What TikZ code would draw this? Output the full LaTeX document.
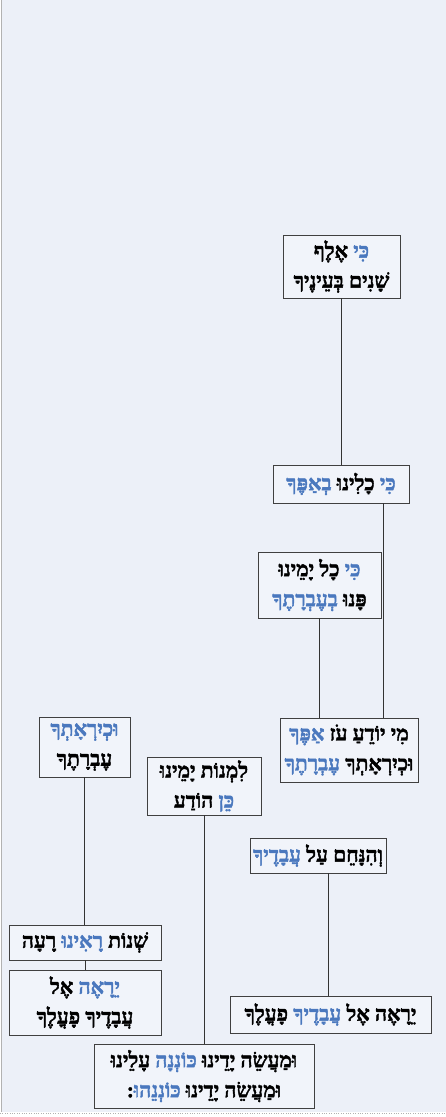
\documentclass[tikz,border=0pt]{standalone}
\usepackage{fontspec}
\TeXXeTstate=1
\newfontfamily\heb[Script=Hebrew,FakeBold=2]{Liberation Serif}
\newfontfamily\hebblue[Script=Hebrew,FakeBold=2,Color=4A78BE]{Liberation Serif}
\definecolor{bgc}{HTML}{ECF0F8}
\definecolor{boxfill}{HTML}{F1F4FA}
\newcommand{\hbl}[1]{{\hebblue\bfseries #1}}
\newcommand{\rl}[1]{\beginR #1\endR}
\begin{document}
\begin{tikzpicture}[x=1pt,y=-1pt,
  box/.style={draw=black!75, fill=boxfill, line width=0.8pt, font=\heb\bfseries\fontsize{21}{30}\selectfont, align=center, inner sep=0pt},
  conn/.style={draw=black!80, line width=0.7pt}]
\useasboundingbox (0,0) rectangle (446,1117);
\fill[bgc] (2,0) rectangle (446,1112);
\draw[gray!60] (1,0) -- (1,1112);
\draw[gray!60, dotted] (0,1113.5) -- (446,1113.5);

\node[box, minimum width=117, minimum height=63] (b1) at (341.5,266.5) {\rl{\hbl{כִּי} אֶלֶף}\\\rl{שָׁנִים בְּעֵינֶיךָ}};
\node[box, minimum width=136, minimum height=38] (b2) at (341,484) {\rl{\hbl{כִּי} כָלִינוּ \hbl{בְאַפֶּךָ}}};
\node[box, minimum width=123, minimum height=66] (b3) at (319.5,585) {\rl{\hbl{כִּי} כָל יָמֵינוּ}\\\rl{פָּנוּ \hbl{בְעֶבְרָתֶךָ}}};
\node[box, minimum width=138, minimum height=64] (b4) at (349,750) {\rl{מִי יוֹדֵעַ עֹז \hbl{אַפֶּךָ}}\\\rl{וּכְיִרְאָתְךָ \hbl{עֶבְרָתֶךָ}}};
\node[box, minimum width=91, minimum height=60] (b5) at (84.5,747) {\rl{\hbl{וּכְיִרְאָתְךָ}}\\\rl{עֶבְרָתֶךָ}};
\node[box, minimum width=114, minimum height=58] (b6) at (204,786) {\rl{לִמְנוֹת יָמֵינוּ}\\\rl{\hbl{כֵּן} הוֹדַע}};
\node[box, minimum width=136, minimum height=35] (b7) at (318,855.5) {\rl{וְהִנָּחֵם עַל \hbl{עֲבָדֶיךָ}}};
\node[box, minimum width=152, minimum height=35] (b8) at (85,942.5) {\rl{שְׁנוֹת \hbl{רָאִינוּ} רָעָה}};
\node[box, minimum width=152, minimum height=65] (b9) at (85,1002.5) {\rl{\hbl{יֵרָאֶה} אֶל}\\\rl{עֲבָדֶיךָ פָעֳלֶךָ}};
\node[box, minimum width=201, minimum height=37] (b10) at (330.5,1014.5) {\rl{יֵרָאֶה אֶל \hbl{עֲבָדֶיךָ} פָעֳלֶךָ}};
\node[box, minimum width=220, minimum height=64] (b11) at (204,1076) {\rl{וּמַעֲשֵׂה יָדֵינוּ \hbl{כּוֹנְנָה} עָלֵינוּ}\\\rl{וּמַעֲשֵׂה יָדֵינוּ \hbl{כּוֹנְנֵהוּ}:}};

\draw[conn] (b1.south) -- (b1.south |- b2.north);
\draw[conn] ([xshift=42pt]b2.south) -- ([xshift=42pt]b2.south |- b4.north);
\draw[conn] (b3.south) -- (b3.south |- b4.north);
\draw[conn] (b5.south) -- (b5.south |- b8.north);
\draw[conn] (b8.south) -- (b9.north);
\draw[conn] (b6.south) -- (b6.south |- b11.north);
\draw[conn] ([xshift=10pt]b7.south) -- ([xshift=10pt]b7.south |- b10.north);
\end{tikzpicture}
\end{document}
